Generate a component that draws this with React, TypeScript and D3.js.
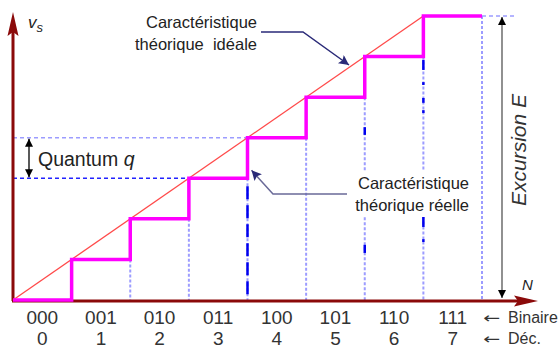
import React from "react";
import * as d3 from "d3";

// ---- data ----
const codes = [0, 1, 2, 3, 4, 5, 6, 7];
const binaryLabels = ["000", "001", "010", "011", "100", "101", "110", "111"];
const decLabels = ["0", "1", "2", "3", "4", "5", "6", "7"];
const outputLevels = [0, 1, 2, 3, 4, 5, 6, 7];
const idealLine: [number, number][] = [[0, 0], [7, 7]];
// dark emphasis segments on the vertical guide lines: [N, fromLevel, toLevel]
const darkSegments: [number, number, number][] = [
  [6, 4.07, 4.26], [6, 1.16, 1.36],
  [7, 5.67, 5.92], [7, 5.3, 5.37], [7, 4.86, 4.98], [7, 4.61, 4.68],
  [7, 1.8, 2.05], [7, 1.43, 1.5],
];

const W = 560, H = 352;
const x = d3.scaleLinear().domain([0, 8]).range([13, 482]);
const y = d3.scaleLinear().domain([0, 7]).range([300, 16]);

const FONT = "'Liberation Sans', Arial, sans-serif";
const AXIS = "#8B0A0A";
const LIGHT = "#9c9cff";
const DARK = "#0000ee";
const NAVY = "#2a2a78";

export default function App() {
  // staircase
  const stairPts: [number, number][] = [];
  codes.forEach((c, i) => {
    stairPts.push([c, outputLevels[i]]);
    stairPts.push([c + 1, outputLevels[i]]);
  });
  const line = d3.line<[number, number]>().x(d => x(d[0])).y(d => y(d[1]));

  const x0 = x(0), y0 = y(0);

  return (
    <svg width={W} height={H} style={{ position: "absolute", left: 0, top: 0, background: "#fff" }}
      fontFamily={FONT}>
      <defs>
        <marker id="ah" viewBox="0 0 10 10" refX="10" refY="5" markerWidth="10" markerHeight="8"
          markerUnits="userSpaceOnUse" orient="auto-start-reverse">
          <path d="M0,0 L10,5 L0,10 z" fill="#000" />
        </marker>
        <marker id="navy" viewBox="0 0 10 10" refX="10" refY="5" markerWidth="14" markerHeight="10"
          markerUnits="userSpaceOnUse" orient="auto">
          <path d="M0,0 L10,5 L0,10 L2,5 z" fill={NAVY} />
        </marker>
      </defs>

      {/* vertical guide lines */}
      {codes.map(c => {
        const N = c + 1;
        const top = outputLevels[c];
        if (top <= 0) return null;
        return (
          <line key={"v" + N} x1={x(N)} x2={x(N)} y1={y(top)} y2={y0}
            stroke={LIGHT} strokeWidth={2} strokeDasharray="3 2" />
        );
      })}
      {/* strong dashed line at N = 4 */}
      <line x1={x(4)} x2={x(4)} y1={y(3) + 8} y2={y0} stroke={DARK} strokeWidth={2.5}
        strokeDasharray="13 6" />
      {darkSegments.map((s, i) => (
        <line key={"d" + i} x1={x(s[0])} x2={x(s[0])} y1={y(s[1])} y2={y(s[2])}
          stroke={DARK} strokeWidth={2.5} />
      ))}

      {/* horizontal guide lines */}
      <line x1={x0} x2={x(4)} y1={y(4)} y2={y(4)} stroke={LIGHT} strokeWidth={1.5} strokeDasharray="4 3" />
      <line x1={x0} x2={x(3)} y1={y(3)} y2={y(3)} stroke="#2222ff" strokeWidth={1.5} strokeDasharray="4 3" />
      <line x1={x(8)} x2={517} y1={y(7)} y2={y(7)} stroke={LIGHT} strokeWidth={1.5} strokeDasharray="4 3" />

      {/* réelle label with white background */}
      <rect x={350} y={171} width={122} height={46} fill="#fff" />
      <text x={469} y={189} textAnchor="end" fontSize={16.5} fill="#222">Caractéristique</text>
      <text x={469} y={211} textAnchor="end" fontSize={16.5} fill="#222">théorique réelle</text>
      <path d={`M347,194 L273,194 L${x(4) + 4},${y(3) - 8}`} fill="none" stroke="#6a6a98"
        strokeWidth={1.5} markerEnd="url(#navy)" />

      {/* idéale label */}
      <text x={257} y={28} textAnchor="end" fontSize={16.5} fill="#222">Caractéristique</text>
      <text x={257} y={50} textAnchor="end" fontSize={16.5} fill="#222" style={{ whiteSpace: "pre" }}>théorique  idéale</text>
      <path d="M261,32 L303,32 L349,65" fill="none" stroke={NAVY} strokeWidth={1.5} markerEnd="url(#navy)" />

      {/* axes */}
      <line x1={x0} x2={x0} y1={y0 + 1} y2={30} stroke={AXIS} strokeWidth={3} />
      <path d={`M${x0},12 L${x0 - 5.5},36 L${x0},32 L${x0 + 5.5},36 Z`} fill={AXIS} />
      <line x1={x0 - 1} x2={520} y1={y0 + 1} y2={y0 + 1} stroke={AXIS} strokeWidth={3} />
      <path d={`M538,${y0 + 1} L514,${y0 - 4.5} L518,${y0 + 1} L514,${y0 + 6.5} Z`} fill={AXIS} />

      {/* ideal line */}
      <path d={line(idealLine) || ""} fill="none" stroke="#ff4a4a" strokeWidth={1.3} />
      {/* staircase */}
      <path d={line(stairPts) || ""} fill="none" stroke="#ff00ff" strokeWidth={3.5} strokeLinejoin="miter" />

      {/* quantum arrow */}
      <line x1={29} x2={29} y1={y(4) + 1} y2={y(3) - 1} stroke="#000" strokeWidth={1.3}
        markerStart="url(#ah)" markerEnd="url(#ah)" />
      <text x={38} y={166} fontSize={19.5} fill="#222">Quantum <tspan fontStyle="italic">q</tspan></text>

      {/* excursion arrow */}
      <line x1={502} x2={502} y1={y(7) + 1} y2={y0 - 2} stroke="#555" strokeWidth={1.3}
        markerStart="url(#ah)" markerEnd="url(#ah)" />
      <text transform="translate(526,150) rotate(-90)" textAnchor="middle" fontSize={21}
        fontStyle="italic" fill="#333">Excursion E</text>

      {/* axis labels */}
      <text x={28} y={28} fontSize={17} fontStyle="italic" fill="#222">v<tspan fontSize={13} dy={4}>s</tspan></text>
      <text x={522} y={290} fontSize={15} fontStyle="italic" fill="#222">N</text>

      {/* code labels */}
      {codes.map((c, i) => (
        <g key={"l" + c}>
          <text x={x(c + 0.5)} y={324} textAnchor="middle" fontSize={19} fill="#333">{binaryLabels[i]}</text>
          <text x={x(c + 0.5)} y={345} textAnchor="middle" fontSize={19} fill="#333">{decLabels[i]}</text>
        </g>
      ))}
      <text x={483} y={323} fontSize={15} fill="#333" fontFamily="'DejaVu Sans', sans-serif"
        textLength={17} lengthAdjust="spacingAndGlyphs">←</text>
      <text x={508} y={323} fontSize={16} fill="#333">Binaire</text>
      <text x={483} y={344} fontSize={15} fill="#333" fontFamily="'DejaVu Sans', sans-serif"
        textLength={17} lengthAdjust="spacingAndGlyphs">←</text>
      <text x={508} y={344} fontSize={16} fill="#333">Déc.</text>
    </svg>
  );
}
